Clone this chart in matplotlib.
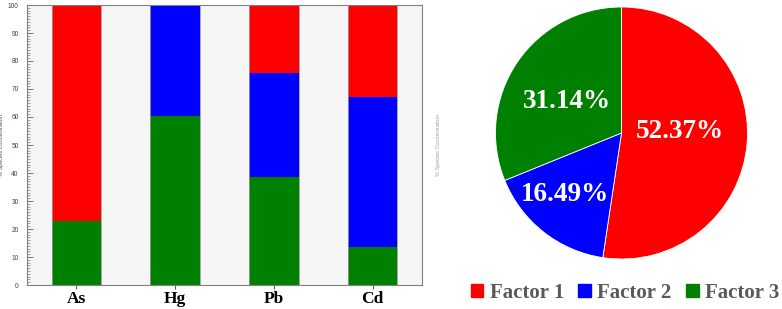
import numpy as np
import matplotlib
matplotlib.use("Agg")
import matplotlib.pyplot as plt
from matplotlib.patches import Patch

# data
elements = ["As", "Hg", "Pb", "Cd"]
factor1 = [77.3, 0.0, 24.2, 32.8]
factor2 = [0.0, 39.8, 37.3, 53.7]
factor3 = [22.7, 60.2, 38.5, 13.5]
pie_labels = ["Factor 1", "Factor 2", "Factor 3"]
pie_values = [52.37, 16.49, 31.14]
colors = ["#ff0000", "#0000ff", "#008000"]

fig = plt.figure(figsize=(7.82, 3.09), dpi=100)

# stacked bar
ax = fig.add_axes([27 / 782, 24 / 309, 395 / 782, 280 / 309])
ax.set_facecolor("#f6f6f6")
x = np.arange(len(elements))
w = 0.5
f3 = np.array(factor3)
f2 = np.array(factor2)
f1 = np.array(factor1)
ax.bar(x, f3, w, color=colors[2], linewidth=0)
ax.bar(x, f2, w, bottom=f3, color=colors[1], linewidth=0)
ax.bar(x, f1, w, bottom=f3 + f2, color=colors[0], linewidth=0)
ax.vlines(np.concatenate([x - w / 2, x + w / 2]), 0, 100, color="#9a9a9a", lw=0.6)

ax.set_xlim(-0.5, len(elements) - 0.5)
ax.set_ylim(0, 100)
ax.set_xticks(x)
ax.set_xticklabels(elements, fontfamily="Liberation Serif", fontweight="bold", fontsize=12.5)
ax.set_yticks(np.arange(0, 101, 10))
ax.set_yticks(np.arange(0, 101, 1), minor=True)
ax.tick_params(axis="x", direction="out", length=3, color="#606060", pad=1)
ax.tick_params(axis="y", which="major", direction="in", length=4, width=0.6, color="#606060",
               labelsize=4.8, labelcolor="#404050", left=True, right=True, labelright=True, pad=6)
ax.tick_params(axis="y", which="minor", direction="in", length=2, width=0.4, color="#606060",
               left=True, right=True)
for s in ax.spines.values():
    s.set_color("#808080")
    s.set_linewidth(0.8)
for lab in ax.get_yticklabels():
    lab.set_fontfamily("Liberation Sans")
ax.set_ylabel("% Species Concentration", fontsize=4, color="#505060", fontfamily="Liberation Sans", labelpad=3)
ax2 = ax.twinx()
ax2.set_ylim(0, 100)
ax2.set_yticks([])
for s in ax2.spines.values():
    s.set_visible(False)
ax2.set_ylabel("% Species Concentration", fontsize=4, color="#a0a0a0", fontfamily="Liberation Sans", labelpad=10)

# pie
r = 126
cx, cy = 621.5, 309 - 133
pax = fig.add_axes([(cx - r) / 782, (cy - r) / 309, 2 * r / 782, 2 * r / 309])
wedges, texts = pax.pie(pie_values, colors=colors, startangle=90, counterclock=False,
                        wedgeprops=dict(edgecolor="white", linewidth=0.6))
pax.set_xlim(-1, 1)
pax.set_ylim(-1, 1)
pax.set_aspect("equal")
label_pos = [(0.46, 0.01), (-0.45, -0.49), (-0.43, 0.25)]
for v, (px, py) in zip(pie_values, label_pos):
    pax.text(px, py, "%.2f%%" % v, ha="center", va="center", color="white",
             fontsize=19.5, fontweight="bold", fontfamily="Liberation Serif")

handles = [Patch(color=c, label=l) for c, l in zip(colors, pie_labels)]
fig.legend(handles=handles, loc="center", bbox_to_anchor=(625 / 782, 16 / 309), ncol=3,
           frameon=False, handlelength=0.6, handleheight=0.6, handletextpad=0.3, columnspacing=0.7,
           prop=dict(family="Liberation Serif", weight="bold", size=15), labelcolor="#595959")

fig.savefig("out.png", dpi=100)
